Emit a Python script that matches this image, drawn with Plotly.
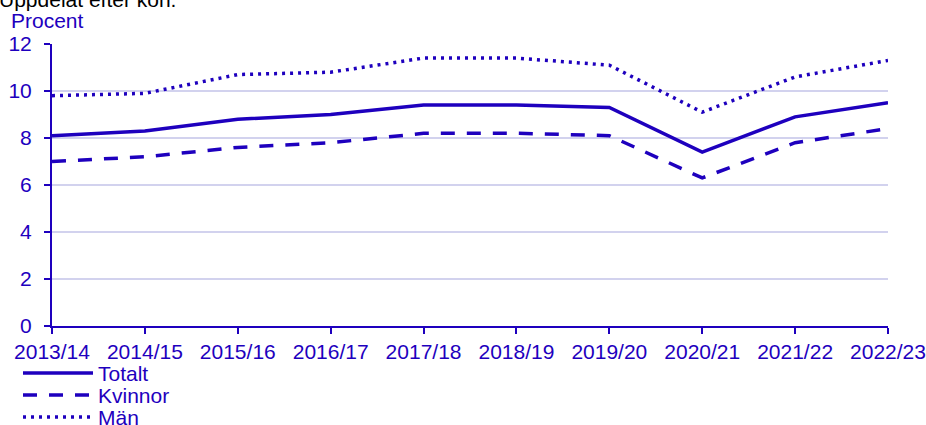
import plotly.graph_objects as go

categories = ["2013/14", "2014/15", "2015/16", "2016/17", "2017/18",
              "2018/19", "2019/20", "2020/21", "2021/22", "2022/23"]
totalt = [8.1, 8.3, 8.8, 9.0, 9.4, 9.4, 9.3, 7.4, 8.9, 9.5]
kvinnor = [7.0, 7.2, 7.6, 7.8, 8.2, 8.2, 8.1, 6.3, 7.8, 8.4]
man = [9.8, 9.9, 10.7, 10.8, 11.4, 11.4, 11.1, 9.1, 10.6, 11.3]
y_ticks = [0, 2, 4, 6, 8, 10, 12]
series_names = ["Totalt", "Kvinnor", "Män"]

BLUE = "#1E00BE"
GRID = "#D2D2EE"
FONT = "Arial, Liberation Sans, sans-serif"
FS = 21
LW = 3.5
DASHES = ["solid", "14px,12px", "3px,5px"]

W, H = 926, 425
L, R, T, B = 52, 38, 44, 99
PW, PH = W - L - R, H - T - B


def px(x):
    return (x - L) / PW


def py(y):
    return (H - B - y) / PH


fig = go.Figure()
for name, vals, dash in zip(series_names, [totalt, kvinnor, man], DASHES):
    fig.add_trace(go.Scatter(x=categories, y=vals, name=name, mode="lines",
                             line=dict(color=BLUE, width=LW, dash=dash),
                             showlegend=False))

shapes = []
annotations = []
for i, (name, dash) in enumerate(zip(series_names, DASHES)):
    yy = 373 + 22 * i
    shapes.append(dict(type="line", xref="paper", yref="paper",
                       x0=px(23), x1=px(93), y0=py(yy), y1=py(yy),
                       line=dict(color=BLUE, width=LW, dash=dash)))
    annotations.append(dict(text=name, xref="paper", yref="paper",
                            x=px(96), y=py(yy), xanchor="left", yanchor="middle",
                            showarrow=False, font=dict(size=FS, color=BLUE)))

annotations.append(dict(text="Procent", xref="paper", yref="paper",
                        x=px(9), y=py(20), xanchor="left", yanchor="middle",
                        showarrow=False, font=dict(size=FS, color=BLUE)))
annotations.append(dict(text="Uppdelat efter kön.", xref="paper", yref="paper",
                        x=px(-3), y=py(-1), xanchor="left", yanchor="middle",
                        showarrow=False, font=dict(size=FS, color="black")))

fig.update_layout(
    width=W, height=H,
    margin=dict(l=L, r=R, t=T, b=B, autoexpand=False),
    paper_bgcolor="white", plot_bgcolor="white",
    font=dict(family=FONT, size=FS, color=BLUE),
    showlegend=False,
    xaxis=dict(type="category", range=[0, 9], showgrid=False, automargin=False,
               showline=True, linecolor=BLUE, linewidth=2,
               ticks="outside", ticklen=6, tickcolor=BLUE, tickwidth=2,
               tickfont=dict(size=FS, color=BLUE)),
    yaxis=dict(range=[0, 12], tickvals=y_ticks, showgrid=True, automargin=False,
               gridcolor=GRID, gridwidth=2, zeroline=False,
               showline=True, linecolor=BLUE, linewidth=2,
               ticks="outside", ticklen=6, tickcolor=BLUE, tickwidth=2,
               ticklabelstandoff=8,
               tickfont=dict(size=FS, color=BLUE)),
    shapes=shapes,
    annotations=annotations,
)

fig.write_html("out.html", config={"displayModeBar": False},
               post_script="document.body.style.margin='0';document.body.style.overflow='hidden';")
